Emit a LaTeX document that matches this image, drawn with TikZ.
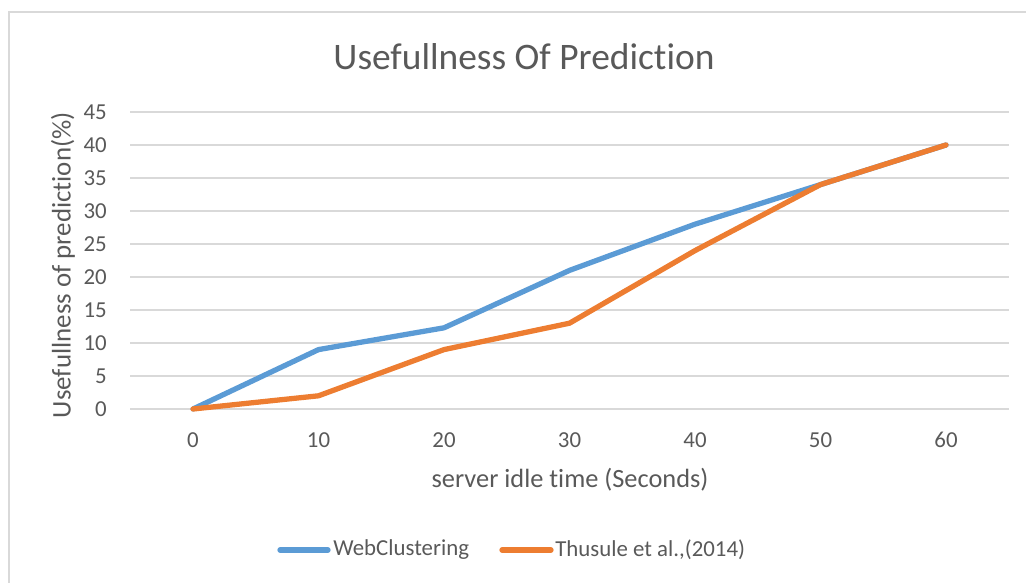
\documentclass[tikz,border=0pt]{standalone}
\usepackage{fontspec}
\setmainfont{Carlito}[Ligatures=NoCommon]
\usepackage{tikz}
\usetikzlibrary{positioning}
\definecolor{cblue}{HTML}{5B9BD5}
\definecolor{corange}{HTML}{ED7D31}
\definecolor{cgrid}{HTML}{D9D9D9}
\definecolor{ctext}{HTML}{595959}

\begin{document}
\begin{tikzpicture}[x=1cm, y=1cm, text=ctext,
  font=\fontsize{13}{15}\selectfont,
  series/.style={line width=3pt, line join=round, line cap=round},
  gridline/.style={cgrid, line width=0.9pt}]
\useasboundingbox (0,0) rectangle (20.52,11.66);
% ---- chart frame --------------------------------------------------
\draw[cgrid, line width=0.7pt] (0.18,0) -- (0.18,11.42) -- (20.52,11.42);
\node (title) at (10.48,10.52) {\fontsize{21.3}{25}\selectfont Usefullness Of Prediction};
% ---- plot area (data units) ---------------------------------------
\begin{scope}[shift={(3.86,3.48)}, x=0.251cm, y=0.132cm]
  \foreach \v in {0,5,...,45} {
    \draw[gridline] (-5,\v) -- (65,\v);
    \node[anchor=east, inner sep=0] (yt\v) at (-6.85,\v) {\v};
  }
  \foreach \t in {0,10,...,60}
    \node (xt\t) at (\t,-4.7) {\t};
  \node (xlab) at (30.04,-10.76) {\fontsize{15}{17}\selectfont server idle time (Seconds)};
  \node[rotate=90] (ylab) at (-10.36,21.8) {\fontsize{15.3}{17}\selectfont Usefullness of prediction(\%)};
  % series
  \draw[series, cblue] plot coordinates
    {(0,0) (10,9) (20,12.3) (30,21) (40,28) (50,34) (60,40)};
  \draw[series, corange] plot coordinates
    {(0,0) (10,2) (20,9) (30,13) (40,24) (50,34) (60,40)};
\end{scope}
% ---- legend -------------------------------------------------------
\coordinate (kb) at (5.6,0.66);
\draw[series, cblue] (kb) -- ++(0.96,0) coordinate (kbe);
\node[right=0.1cm of kbe, inner sep=0] (legweb) {WebClustering};
\coordinate (ko) at (10.04,0.66);
\draw[series, corange] (ko) -- ++(0.98,0) coordinate (koe);
\node[right=0.08cm of koe, inner sep=0] (legthu) {Thusule et al.,(2014)};
\end{tikzpicture}
\end{document}
